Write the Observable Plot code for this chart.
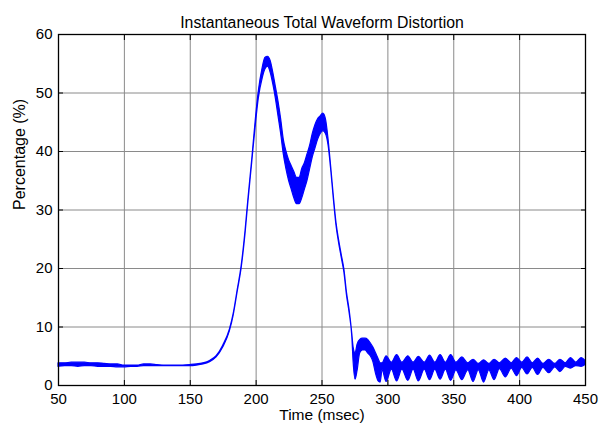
<!DOCTYPE html>
<html>
<head>
<meta charset="utf-8">
<script src="https://cdn.jsdelivr.net/npm/d3@7"></script>
<script src="https://cdn.jsdelivr.net/npm/@observablehq/plot@0.6"></script>
<style>
  html, body { margin: 0; padding: 0; background: #ffffff; }
  #chart svg { display: block; }
</style>
</head>
<body>
<div id="chart"></div>
<script>
// Time (msec) sample positions of the signal envelope
const time = [
  50, 55, 60, 65, 70, 75, 80, 85, 90, 95,
  100, 105, 110, 115, 120, 125, 130, 140, 150, 155,
  160, 165, 170, 175, 180, 183, 186, 189, 192, 194,
  197, 200, 202, 205, 207, 209, 211, 213, 215, 217,
  219, 221, 223, 225, 227, 229, 231, 233, 235, 237,
  239, 241, 243, 245, 247, 249, 251, 253, 255, 257,
  259, 261, 263, 265, 267, 269, 271, 273, 274, 275.5,
  277, 279, 281, 283, 285, 287, 289, 291, 293, 294.5,
  296, 299, 303, 307, 311, 315.5, 319.5, 323.5, 328, 332,
  336, 340, 344, 348, 352, 356.5, 361, 365, 369, 373,
  377, 381, 385, 389.5, 394, 398, 402, 406, 410, 414,
  418, 422.5, 427, 431, 435, 439, 443, 447, 450
];
// Upper envelope (%)
const upper = [
  3.8, 3.8, 3.9, 3.9, 3.9, 3.8, 3.8, 3.7, 3.6, 3.6,
  3.4, 3.4, 3.4, 3.6, 3.6, 3.5, 3.4, 3.4, 3.5, 3.6,
  3.8, 4.2, 5.0, 6.8, 9.5, 12.3, 16.3, 20.4, 26.5, 31.5,
  38.5, 46, 50.2, 54.3, 56, 56.2, 55.5, 53.5, 51, 48.5,
  45.5, 42, 40, 38.5, 37.5, 36.5, 35.5, 35.5, 37, 38,
  39.5, 41, 43, 44.5, 45.5, 46, 46.5, 45.5, 42, 37.3,
  32.3, 27.8, 24.8, 22.3, 19.8, 15.8, 12.8, 8.8, 6.5, 5.5,
  7, 7.8, 8, 8, 7.8, 7.2, 6.5, 5.5, 4.5, 3.8,
  3.8, 5.0, 3.9, 5.2, 3.9, 5.0, 3.9, 4.9, 3.9, 5.1,
  3.9, 5.2, 3.9, 5.2, 3.9, 4.8, 3.8, 4.4, 3.7, 4.3,
  3.7, 4.4, 3.8, 4.6, 3.8, 4.7, 3.9, 4.8, 3.8, 4.6,
  3.7, 4.4, 3.7, 4.4, 3.8, 4.7, 3.9, 4.7, 4.2
];
// Lower envelope (%)
const lower = [
  3.2, 3.3, 3.3, 3.2, 3.3, 3.3, 3.2, 3.2, 3.2, 3.1,
  3.1, 3.2, 3.2, 3.3, 3.3, 3.3, 3.3, 3.3, 3.3, 3.4,
  3.6, 4.0, 4.8, 6.5, 9.2, 12, 16, 20, 26, 31,
  38, 45, 49, 52.5, 54, 54.5, 53.5, 51.5, 49, 46,
  43, 39.5, 37, 35, 33.5, 32, 31, 31, 32, 33.5,
  35, 37, 39, 40.5, 42, 43, 43.5, 43, 41, 36.8,
  31.8, 27.3, 24.3, 21.8, 19.3, 15.3, 12.3, 8.3, 4, 1,
  2.5, 5.5, 6, 6, 5.5, 5, 4, 2, 0.7, 0.5,
  2.6, 0.6, 2.7, 0.7, 2.7, 0.8, 2.7, 0.7, 2.7, 0.9,
  2.7, 1.0, 2.7, 0.8, 2.6, 0.9, 2.6, 0.6, 2.6, 0.5,
  2.6, 0.9, 2.8, 1.4, 2.9, 1.6, 3.0, 1.9, 3.0, 1.8,
  3.0, 2.1, 3.1, 2.3, 3.2, 2.9, 3.3, 3.2, 3.5
];
const xTicks = [50, 100, 150, 200, 250, 300, 350, 400, 450];
const yTicks = [0, 10, 20, 30, 40, 50, 60];
const titleText = "Instantaneous Total Waveform Distortion";
const xLabel = "Time (msec)";
const yLabel = "Percentage (%)";

const data = time.map((t, i) => ({t, hi: upper[i], lo: lower[i]}));

const font = "'Liberation Sans', Arial, Helvetica, sans-serif";
const chart = Plot.plot({
  width: 601,
  height: 434,
  marginLeft: 58,
  marginRight: 16,
  marginTop: 34,
  marginBottom: 49,
  style: {fontFamily: font, fontSize: "15px", background: "#ffffff", color: "#000000", overflow: "visible"},
  x: {domain: [50, 450], label: null},
  y: {domain: [0, 60], label: null},
  marks: [
    Plot.gridX(xTicks, {stroke: "#8a8a8a", strokeOpacity: 1, strokeWidth: 1}),
    Plot.gridY(yTicks, {stroke: "#8a8a8a", strokeOpacity: 1, strokeWidth: 1}),
    Plot.areaY(data, {x: "t", y1: "lo", y2: "hi", fill: "#0000ff", stroke: "#0000ff", strokeWidth: 1.2, curve: "monotone-x"}),
    Plot.frame({stroke: "#000000", strokeWidth: 1.3}),
    Plot.axisX(xTicks, {anchor: "bottom", tickSize: -5, tickPadding: 13, label: null, fontSize: 15, stroke: "#000"}),
    Plot.axisX(xTicks, {anchor: "top", tickSize: -5, tickFormat: () => "", label: null}),
    Plot.axisY(yTicks, {anchor: "left", tickSize: -5, tickPadding: 11, label: null, fontSize: 15}),
    Plot.axisY(yTicks, {anchor: "right", tickSize: -5, tickFormat: () => "", label: null}),
    Plot.text([titleText], {frameAnchor: "top", dy: -18, fontSize: 15.8, fill: "#000"}),
    Plot.text([xLabel], {frameAnchor: "bottom", dy: 34, fontSize: 15.5, fill: "#000"}),
    Plot.text([yLabel], {frameAnchor: "left", dx: -39, rotate: -90, fontSize: 16, fill: "#000"})
  ]
});
document.getElementById("chart").appendChild(chart);
</script>
</body>
</html>
